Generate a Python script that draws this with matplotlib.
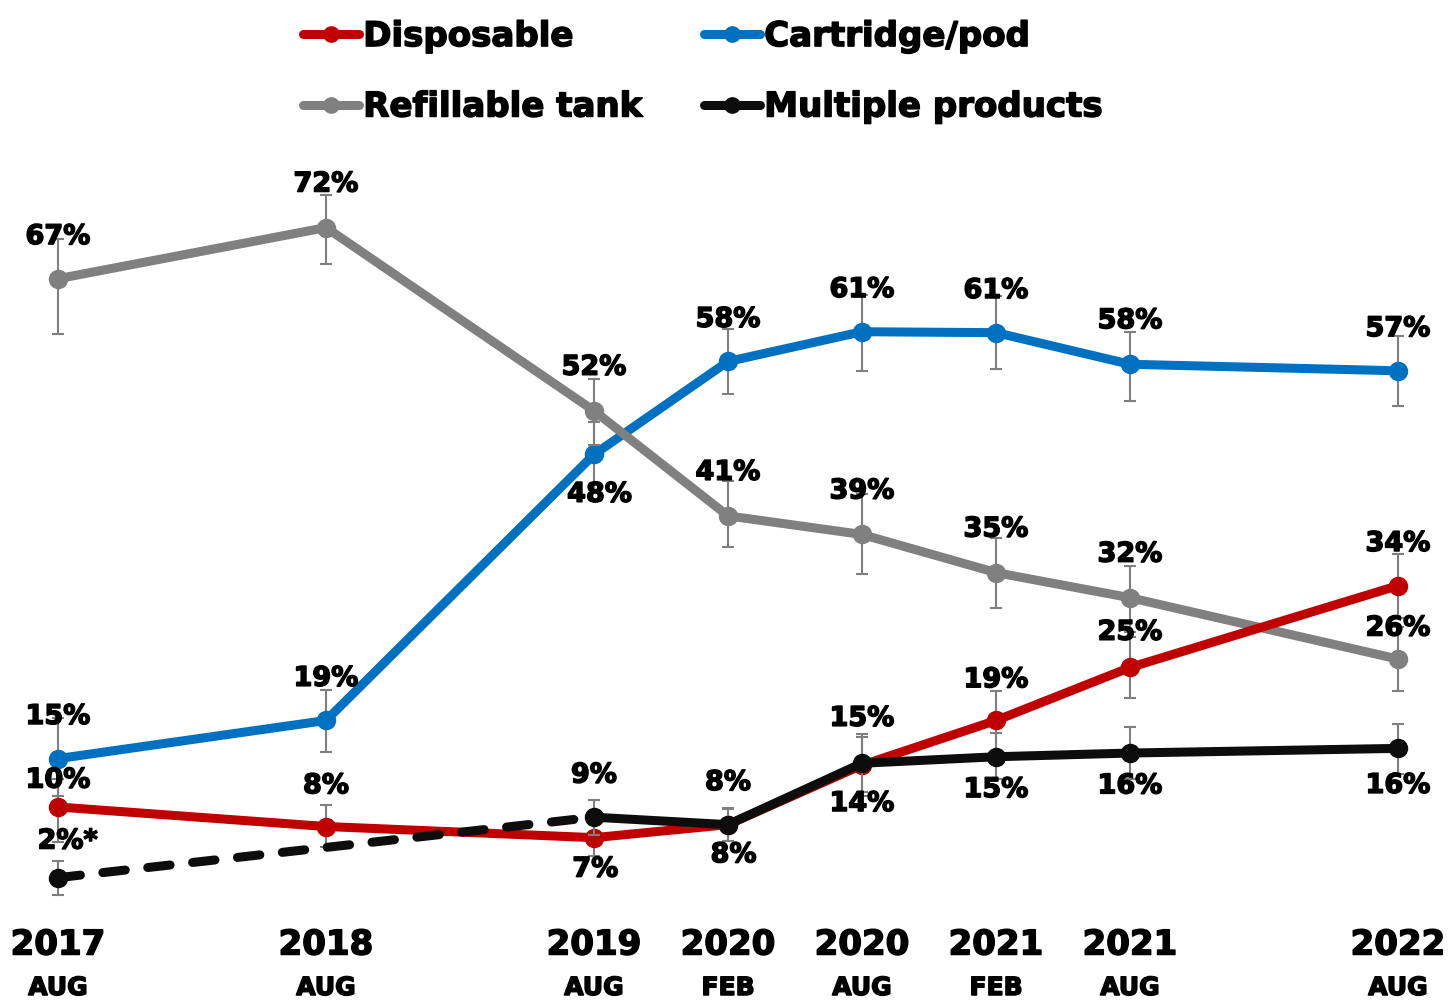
import matplotlib
matplotlib.use("Agg")
import matplotlib.pyplot as plt
import matplotlib.transforms as mtransforms
import matplotlib.patheffects as pe
from matplotlib.lines import Line2D
import numpy as np

# survey waves
years = ["2017", "2018", "2019", "2020", "2020", "2021", "2021", "2022"]
months = ["AUG", "AUG", "AUG", "FEB", "AUG", "FEB", "AUG", "AUG"]

# percentages per device type
disposable = [9.9, 7.8, 6.6, 8.0, 14.4, 19.2, 24.9, 33.7]
cartridge = [15.1, 19.2, 47.8, 57.8, 61.0, 60.9, 57.5, 56.8]
refillable = [66.7, 72.2, 52.5, 41.2, 39.2, 35.1, 32.4, 25.8]
multiple = [2.3, np.nan, 8.8, 8.0, 14.6, 15.3, 15.7, 16.2]

# confidence interval half widths (down, up)
disposable_err = [[3.8, 2.2, 2.0, 1.8, 3.3, 3.3, 3.3, 3.5],
                  [3.0, 2.3, 1.9, 1.8, 3.0, 3.2, 3.3, 3.4]]
cartridge_err = [[4.0, 3.4, 3.8, 3.5, 4.2, 3.9, 3.9, 3.8],
                 [4.4, 3.3, 3.5, 3.5, 4.0, 3.9, 3.5, 3.7]]
refillable_err = [[5.9, 3.9, 3.7, 3.4, 4.3, 3.8, 3.7, 3.4],
                  [4.3, 3.5, 3.4, 3.7, 4.3, 3.7, 3.4, 3.5]]
multiple_err = [[1.9, np.nan, 1.9, 1.8, 3.1, 2.4, 2.8, 2.8],
                [1.8, np.nan, 1.9, 1.7, 3.1, 2.6, 2.8, 2.6]]

disposable_lbl = ["10%", "8%", "7%", "8%", "14%", "19%", "25%", "34%"]
cartridge_lbl = ["15%", "19%", "48%", "58%", "61%", "61%", "58%", "57%"]
refillable_lbl = ["67%", "72%", "52%", "41%", "39%", "35%", "32%", "26%"]
multiple_lbl = ["2%*", "", "9%", "8%", "15%", "15%", "16%", "16%"]

# label offsets in points (dx, dy)
disposable_off = [(0, 19), (0, 29), (1, -23), (4, -22), (0, -28), (0, 29), (0, 25), (0, 30)]
cartridge_off = [(0, 30), (0, 30), (4, -29), (0, 30), (0, 30), (0, 30), (0, 31), (0, 30)]
refillable_off = [(0, 30), (0, 31), (0, 31), (0, 31), (0, 31), (0, 31), (0, 31), (0, 22)]
multiple_off = [(7, 26), (0, 0), (0, 30), (0, 30), (0, 32), (0, -24), (0, -24), (0, -27)]

# x position = half years since Aug 2017
month_num = {"FEB": 2, "AUG": 8}
x = np.array([((int(y) - 2017) * 12 + month_num[m] - 8) / 6 for y, m in zip(years, months)])

RED = "#C00000"
BLUE = "#0070C0"
GRAY = "#808080"
BLACK = "#0D0D0D"
FONT = "DejaVu Sans"
# thicken the bold glyphs a little
heavy = [pe.withStroke(linewidth=1.1, foreground="black")]

fig = plt.figure(figsize=(14.52, 10.03), dpi=100)
ax = fig.add_axes([11.1 / 1452, 0.0841, 1433.8 / 1452, 0.7418])
ax.set_xlim(-0.35, 10.35)
ax.set_ylim(-2, 78)
ax.axis("off")

lw = 6.5
ms = 13


def draw_series(vals, errs, color, z, dashed_first=False):
    vals = np.array(vals, dtype=float)
    errs = np.array(errs, dtype=float)
    ok = ~np.isnan(vals)
    ax.errorbar(x[ok], vals[ok], yerr=errs[:, ok], fmt="none", ecolor="#7F7F7F",
                elinewidth=1.5, capsize=4.5, capthick=1.5, zorder=z - 0.5)
    xs, vs = x[ok], vals[ok]
    if dashed_first:
        ax.plot(xs[:2], vs[:2], color=color, lw=lw, ls=(0, (2.5, 2.5)),
                dash_capstyle="round", zorder=z)
        ax.plot(xs[1:], vs[1:], color=color, lw=lw, solid_capstyle="round", zorder=z)
    else:
        ax.plot(xs, vs, color=color, lw=lw, solid_capstyle="round", zorder=z)
    ax.plot(xs, vs, ls="none", marker="o", ms=ms, color=color, zorder=z + 0.1)


draw_series(cartridge, cartridge_err, BLUE, 3)
draw_series(refillable, refillable_err, GRAY, 4)
draw_series(disposable, disposable_err, RED, 5)
draw_series(multiple, multiple_err, BLACK, 6, dashed_first=True)

for vals, lbls, offs in [(refillable, refillable_lbl, refillable_off),
                         (cartridge, cartridge_lbl, cartridge_off),
                         (disposable, disposable_lbl, disposable_off),
                         (multiple, multiple_lbl, multiple_off)]:
    for xi, v, t, (dx, dy) in zip(x, vals, lbls, offs):
        if not t or np.isnan(v):
            continue
        ax.annotate(t, (xi, v), xytext=(dx, dy), textcoords="offset points",
                    ha="center", va="center", fontsize=19.5, fontweight="bold",
                    family=FONT, color="black", zorder=10, path_effects=heavy)

# x axis labels
trans = mtransforms.blended_transform_factory(ax.transData, fig.transFigure)
for xi, yr, mo in zip(x, years, months):
    ax.text(xi, 1 - 946 / 1003, yr, transform=trans, ha="center", va="center",
            fontsize=24.5, fontweight="bold", family=FONT, path_effects=heavy)
    ax.text(xi, 1 - 989 / 1003, mo, transform=trans, ha="center", va="center",
            fontsize=18, fontweight="bold", family=FONT, path_effects=heavy)

# legend
def handle(c):
    return Line2D([], [], color=c, lw=lw, marker="o", ms=11, solid_capstyle="round")

handles = [handle(RED), handle(GRAY), handle(BLUE), handle(BLACK)]
labels = ["Disposable", "Refillable tank", "Cartridge/pod", "Multiple products"]
leg = fig.legend(handles, labels, ncol=2, loc="upper left", bbox_to_anchor=(303 / 1452, 0.979),
                 frameon=False, borderpad=0, borderaxespad=0, handlelength=1.65,
                 handletextpad=0.12, columnspacing=1.8, labelspacing=1.1,
                 prop={"family": FONT, "weight": "bold", "size": 24.5})
for t in leg.get_texts():
    t.set_path_effects(heavy)

fig.savefig("out.png", dpi=100)
